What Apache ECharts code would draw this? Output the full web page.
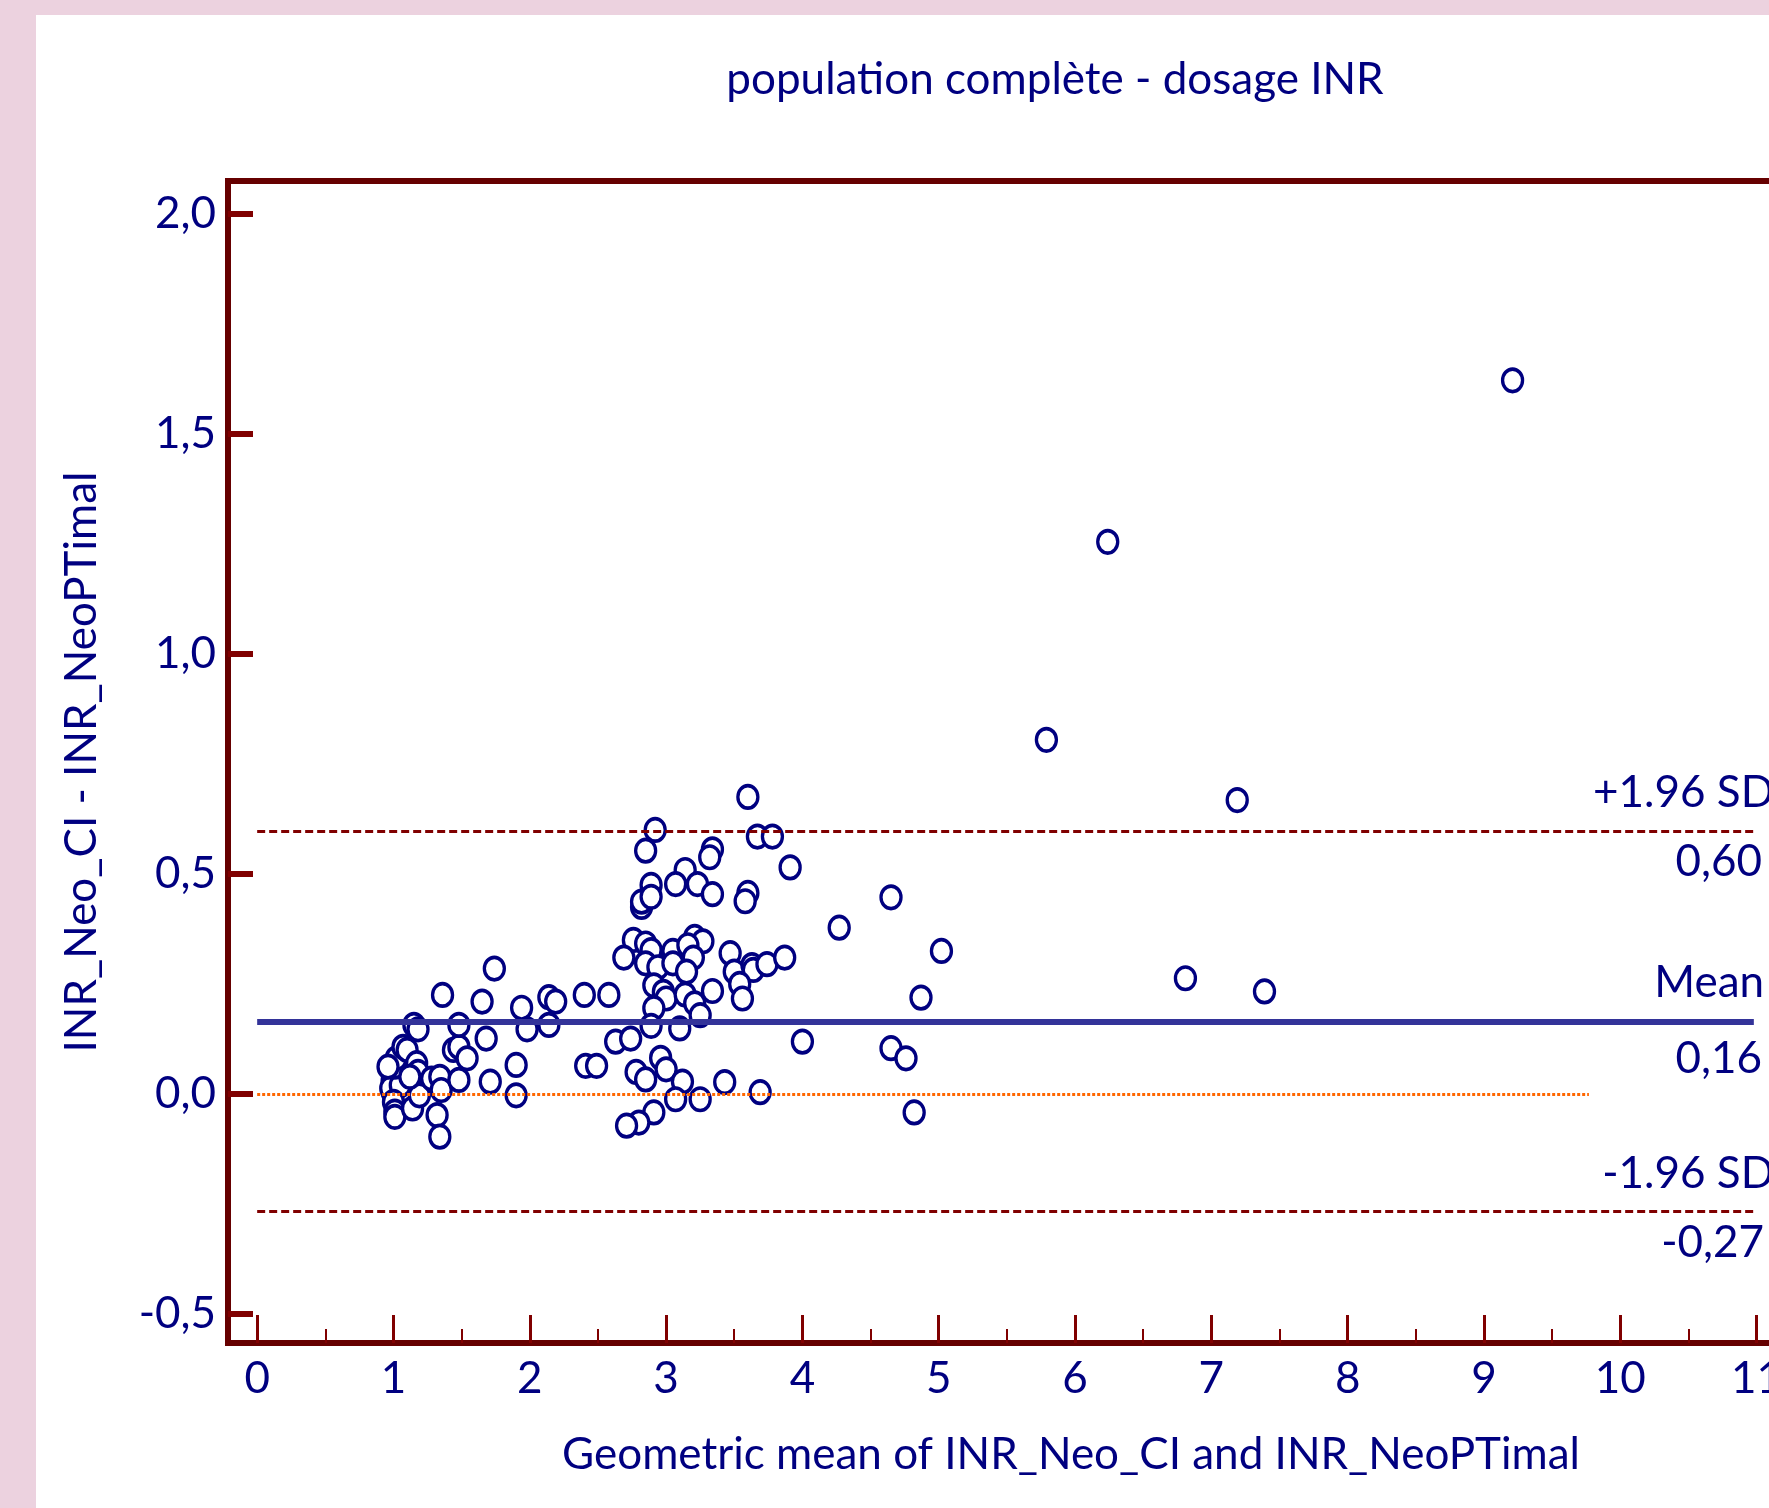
<!DOCTYPE html>
<html>
<head>
<meta charset="utf-8">
<script src="https://cdn.jsdelivr.net/npm/echarts@6/dist/echarts.min.js"></script>
<style>
  html, body { margin: 0; padding: 0; background: #ecd2df; }
  #chart { width: 1769px; height: 1508px; }
</style>
</head>
<body>
<div id="chart"></div>
<script>
// Bland-Altman: geometric mean vs difference
const meanValues = [
  0.99, 0.99, 0.98, 1.05, 1.00, 1.01, 1.01, 1.14, 1.19, 1.01, 1.02, 1.07, 1.10, 1.17, 1.18, 1.12, 0.96,
  1.15, 1.18, 1.28, 1.34, 1.35, 1.32, 1.34, 1.36, 1.48, 1.44, 1.48, 1.54, 1.48, 1.68, 1.71, 1.74, 1.65,
  1.94, 1.98, 2.14, 2.19, 2.14, 1.90, 1.90, 2.40, 2.58, 2.41, 2.49, 2.63, 2.74,
  2.92, 2.85, 3.34, 3.32, 3.67, 3.78, 3.91, 3.14, 3.07, 3.23, 3.34, 2.89, 2.82, 2.82, 2.89, 3.60, 3.58,
  2.76, 2.85, 2.69, 2.89, 3.05, 3.21, 3.27, 3.16, 3.20, 2.85, 2.94, 3.05, 3.15, 3.47, 3.50, 3.63, 3.64,
  3.74, 3.87, 3.54, 3.56, 2.91, 2.98, 3.00, 3.14, 3.34, 3.21, 2.91, 3.25, 2.89, 3.10,
  2.96, 3.00, 2.78, 2.85, 3.12, 3.07, 3.25, 2.91, 2.80, 2.71, 3.43, 3.69,
  3.60, 4.00, 4.27, 4.65, 5.02, 4.87, 4.65, 4.76, 4.82, 5.79, 6.24, 7.19, 6.81, 7.39, 9.21
]
const diffValues = [
  0.030, 0.005, 0.013, 0.020, -0.018, -0.040, -0.052, -0.033, -0.003, 0.062, 0.081, 0.107, 0.100, 0.070, 0.050, 0.039, 0.062,
  0.157, 0.147, 0.035, 0.039, 0.009, -0.048, -0.097, 0.225, 0.032, 0.100, 0.107, 0.081, 0.157, 0.126, 0.028, 0.285, 0.210,
  0.196, 0.147, 0.220, 0.210, 0.157, 0.066, -0.003, 0.225, 0.225, 0.064, 0.064, 0.119, 0.126,
  0.600, 0.553, 0.556, 0.538, 0.585, 0.585, 0.515, 0.509, 0.477, 0.477, 0.454, 0.475, 0.425, 0.437, 0.448, 0.457, 0.438,
  0.350, 0.342, 0.310, 0.327, 0.325, 0.357, 0.347, 0.338, 0.310, 0.297, 0.288, 0.297, 0.278, 0.320, 0.278, 0.293, 0.282,
  0.295, 0.310, 0.250, 0.217, 0.247, 0.232, 0.217, 0.226, 0.234, 0.206, 0.195, 0.179, 0.155, 0.149,
  0.082, 0.056, 0.050, 0.033, 0.028, -0.012, -0.012, -0.042, -0.065, -0.072, 0.027, 0.004,
  0.675, 0.119, 0.378, 0.447, 0.325, 0.219, 0.104, 0.081, -0.042, 0.805, 1.255, 0.668, 0.263, 0.233, 1.622
]

const meanDiff = 0.165
const upperLimit = 0.597
const lowerLimit = -0.267
const lineStart = 0
const lineEnd = 10.98
const zeroLineEnd = 9.77
const labelEnd = 11.07

const xTicks = [0, 1, 2, 3, 4, 5, 6, 7, 8, 9, 10, 11, 12]
const xMinorTicks = [0.5, 1.5, 2.5, 3.5, 4.5, 5.5, 6.5, 7.5, 8.5, 9.5, 10.5, 11.5]
const yTicks = [-0.5, 0, 0.5, 1.0, 1.5, 2.0]

const navy = '#000080'
const maroon = '#800000'
const font = 'Lato'
const fontSize = 44
// ellipse outline (slightly taller than wide, like the original markers)
const ellipse = 'path://M0,-1A1,1 0 1,1 0,1A1,1 0 1,1 0,-1Z'

const points = meanValues.map((v, i) => [v, diffValues[i]])

const hiddenLine = { color: 'rgba(0,0,0,0)', width: 0 }

function labelLine (y, text, below, dx, dy) {
  return [
    {
      coord: [lineStart, y],
      lineStyle: hiddenLine,
      label: {
        show: true,
        formatter: text,
        position: below ? 'insideEndBottom' : 'insideEndTop',
        distance: [dx, dy],
        fontFamily: font,
        fontSize: fontSize,
        color: navy,
        opacity: 1
      }
    },
    { coord: [labelEnd, y] }
  ]
}

const chart = echarts.init(document.getElementById('chart'))
chart.setOption({
  backgroundColor: '#fff',
  animation: false,
  graphic: [
    { type: 'rect', shape: { x: 0, y: 0, width: 36, height: 1508 }, style: { fill: '#ecd2df' }, z: 100 },
    { type: 'rect', shape: { x: 0, y: 0, width: 1769, height: 15 }, style: { fill: '#ecd2df' }, z: 100 }
  ],
  title: {
    text: 'population complète - dosage INR',
    left: 1050,
    top: 53,
    textAlign: 'center',
    textStyle: { fontFamily: font, fontSize: fontSize, fontWeight: 'normal', color: navy }
  },
  grid: {
    left: 228,
    top: 181,
    right: -145,
    bottom: 165,
    outerBoundsMode: 'none',
    containLabel: false,
    show: true,
    borderColor: '#660000',
    borderWidth: 6,
    backgroundColor: '#fff'
  },
  xAxis: [
    {
      type: 'value',
      min: -0.214,
      max: 12.155,
      name: 'Geometric mean of INR_Neo_CI and INR_NeoPTimal',
      nameLocation: 'middle',
      nameGap: 90,
      nameTextStyle: { fontFamily: font, fontSize: fontSize, color: navy },
      axisLine: { show: false, onZero: false },
      splitLine: { show: false },
      axisTick: { show: true, inside: true, length: 28, customValues: xTicks, lineStyle: { color: maroon, width: 3 } },
      axisLabel: { customValues: xTicks, margin: 14, fontFamily: font, fontSize: fontSize, color: navy }
    },
    {
      type: 'value',
      position: 'bottom',
      min: -0.214,
      max: 12.155,
      axisLine: { show: false, onZero: false },
      splitLine: { show: false },
      axisTick: { show: true, inside: true, length: 14, customValues: xMinorTicks, lineStyle: { color: maroon, width: 2 } },
      axisLabel: { show: false }
    }
  ],
  yAxis: {
    type: 'value',
    min: -0.566,
    max: 2.075,
    name: 'INR_Neo_CI - INR_NeoPTimal',
    nameLocation: 'middle',
    nameGap: 124,
    nameTextStyle: { fontFamily: font, fontSize: fontSize, color: navy },
    axisLine: { show: false, onZero: false },
    splitLine: { show: false },
    axisTick: { show: true, inside: true, length: 25, customValues: yTicks, lineStyle: { color: maroon, width: 6 } },
    axisLabel: {
      customValues: yTicks,
      margin: 12,
      fontFamily: font,
      fontSize: fontSize,
      color: navy,
      formatter: v => v.toFixed(1).replace('.', ',')
    }
  },
  series: [
    {
      type: 'scatter',
      z: 2,
      data: points,
      symbol: ellipse,
      symbolSize: [20, 22.5],
      itemStyle: { color: '#fff', borderColor: navy, borderWidth: 3.5, opacity: 1 },
      emphasis: { disabled: true }
    },
    {
      type: 'scatter',
      z: 5,
      data: [],
      markLine: {
        silent: true,
        symbol: 'none',
        animation: false,
        label: { show: false },
        data: [
          [{ coord: [lineStart, upperLimit], lineStyle: { color: maroon, width: 3, type: [8, 4] } }, { coord: [lineEnd, upperLimit] }],
          [{ coord: [lineStart, lowerLimit], lineStyle: { color: maroon, width: 3, type: [8, 4] } }, { coord: [lineEnd, lowerLimit] }],
          [{ coord: [lineStart, meanDiff], lineStyle: { color: '#333399', width: 6, type: 'solid' } }, { coord: [lineEnd, meanDiff] }],
          [{ coord: [lineStart, 0], lineStyle: { color: '#ff6600', width: 3, type: [3, 2] } }, { coord: [zeroLineEnd, 0] }],
          labelLine(upperLimit, '+1.96 SD', false, -8, 16),
          labelLine(upperLimit, '0,60', true, 4, 9),
          labelLine(meanDiff, 'Mean', false, 2, 17),
          labelLine(meanDiff, '0,16', true, 4, 15),
          labelLine(lowerLimit, '-1.96 SD', false, -8, 16),
          labelLine(lowerLimit, '-0,27', true, 2, 9)
        ]
      }
    }
  ]
})
</script>
</body>
</html>
